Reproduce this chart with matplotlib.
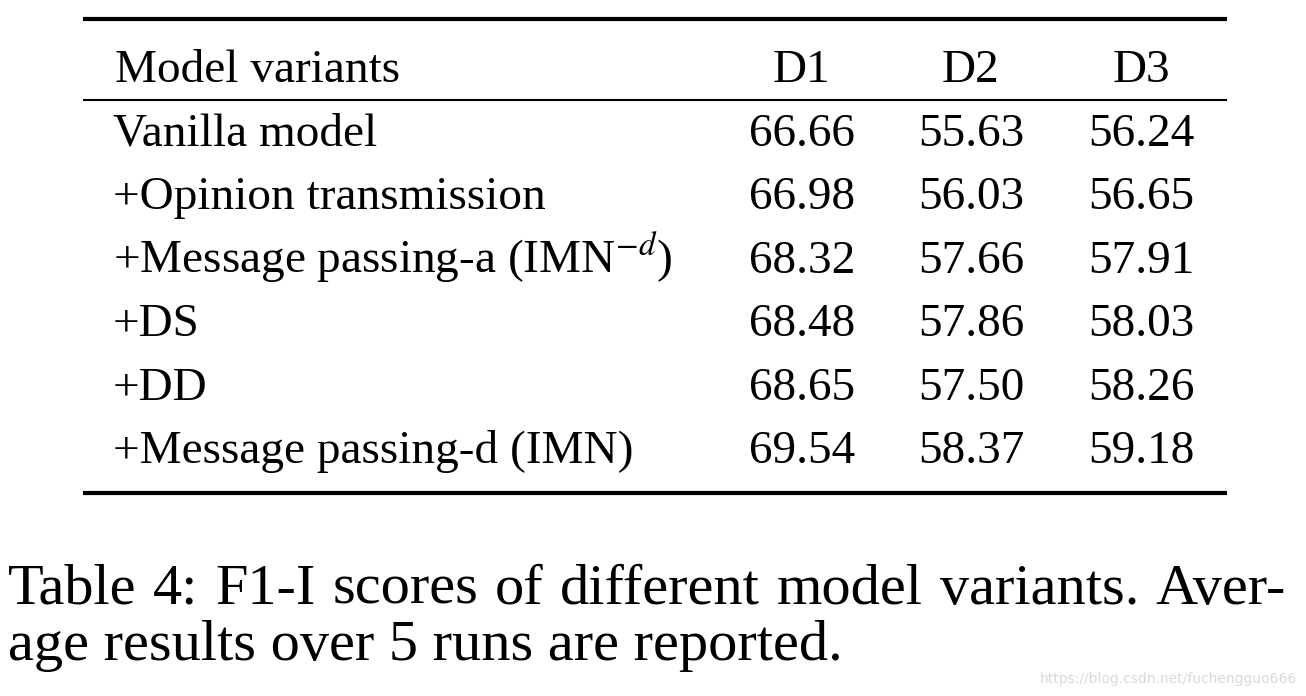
import matplotlib
matplotlib.use("Agg")
import matplotlib.pyplot as plt

plt.rcParams['font.family'] = ['Liberation Serif', 'DejaVu Serif']
plt.rcParams['mathtext.fontset'] = 'stix'

# table content
columns = ["D1", "D2", "D3"]
variants = ["Vanilla model",
            "+Opinion transmission",
            r"+Message passing-a (IMN$^{-d}$)",
            "+DS",
            "+DD",
            "+Message passing-d (IMN)"]
d1 = [66.66, 66.98, 68.32, 68.48, 68.65, 69.54]
d2 = [55.63, 56.03, 57.66, 57.86, 57.50, 58.37]
d3 = [56.24, 56.65, 57.91, 58.03, 58.26, 59.18]
caption = ["Table 4: F1-I scores of different model variants. Aver-",
           "age results over 5 runs are reported."]
watermark = "https://blog.csdn.net/fuchengguo666"

W, H = 1306, 696
fig = plt.figure(figsize=(W / 100, H / 100), dpi=100)
ax = fig.add_axes([0, 0, 1, 1])
ax.set_xlim(0, W)
ax.set_ylim(H, 0)
ax.axis("off")

fs = 34
col_x = [802, 971, 1141]
row0, row_step = 146, 63.4

# rules
ax.hlines(19, 83, 1227, color="black", lw=3.0)
ax.hlines(100, 83, 1227, color="black", lw=1.5)
ax.hlines(493, 83, 1227, color="black", lw=3.0)

# header
ax.text(115, 82, "Model variants", fontsize=fs, va="baseline", ha="left")
for x, c in zip(col_x, columns):
    ax.text(x, 82, c, fontsize=fs, va="baseline", ha="center")

# body
for i, name in enumerate(variants):
    y = row0 + i * row_step
    ax.text(113, y, name, fontsize=fs, va="baseline", ha="left")
    for x, vals in zip(col_x, [d1, d2, d3]):
        ax.text(x, y, "%.2f" % vals[i], fontsize=fs, va="baseline", ha="center")

# caption, first line justified word by word like the paper
renderer = fig.canvas.get_renderer()
words = caption[0].split(" ")
left, right = 8, 1286
arts = [ax.text(0, 604, w, fontsize=42, va="baseline", ha="left") for w in words]
widths = [a.get_window_extent(renderer).width for a in arts]
gap = (right - left - sum(widths)) / (len(words) - 1)
x = left
for a, w in zip(arts, widths):
    a.set_x(x)
    x += w + gap
ax.text(left, 660, caption[1], fontsize=42, va="baseline", ha="left")

ax.text(1297, 683, watermark, fontsize=10, color="#dadada",
        family="DejaVu Sans", va="baseline", ha="right")

fig.savefig("out.png", dpi=100)
